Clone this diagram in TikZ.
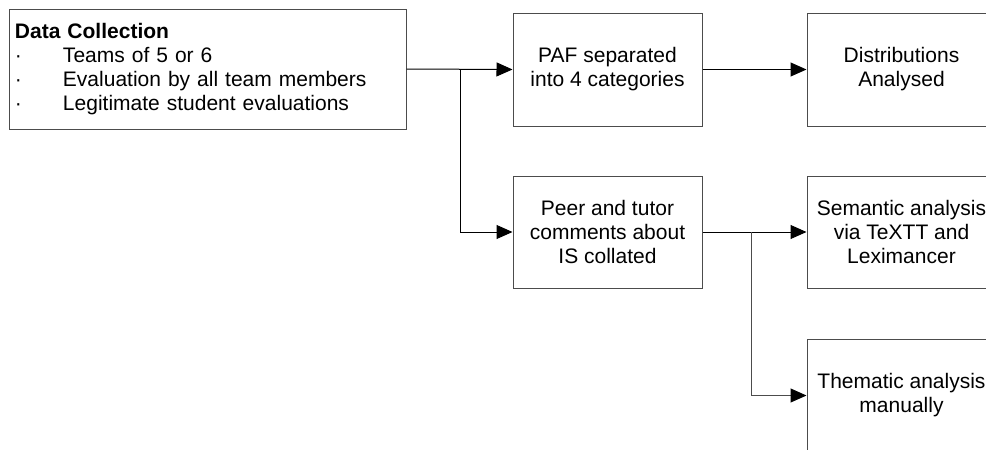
\documentclass[tikz,border=0pt]{standalone}
\usepackage{fontspec}
\setmainfont{Liberation Sans}
\usepackage{tikz}
\usetikzlibrary{arrows.meta}

\begin{document}
\begin{tikzpicture}[
    x=1pt, y=-1pt, line width=1pt,
    font=\fontsize{21}{24}\selectfont, >={Triangle[length=16pt,width=14pt,black]},
    stage/.style  ={draw=black!70, minimum width=189pt, minimum height=113pt, align=center, inner sep=2pt},
    listbox/.style={draw=black!70, minimum width=397pt, minimum height=120pt, text width=385pt, align=left, inner xsep=6pt},
    link/.style   ={->, black}
]
\useasboundingbox (0,0) rectangle (986,450);
\clip (0,0) rectangle (986,450);

% --- Data collection ---
\node[listbox] (data) at (207.5, 69) {\textbf{Data Collection}\\
  \makebox[48pt][l]{·}Teams of 5 or 6\\
  \makebox[48pt][l]{·}Evaluation by all team members\\
  \makebox[48pt][l]{·}Legitimate student evaluations};

% --- Quantitative branch ---
\node[stage] (paf)  at (607.5, 69.5) {PAF separated\\into 4 categories};
\node[stage] (dist) at (901.5, 69.5) {Distributions\\Analysed};

% --- Qualitative branch ---
\node[stage, minimum height=112pt] (peer) at (607.5, 232) {Peer and tutor\\comments about\\IS collated};
\node[stage, minimum height=112pt] (sem)  at (901.5, 232) {Semantic analysis\\via TeXTT and\\Leximancer};
\node[stage] (them) at (901.5, 395.5) {Thematic analysis\\manually};

% --- Junctions ---
\coordinate (j1) at (460, 69);
\coordinate (j2) at (751, 232);

% --- Connectors ---
\draw[link] (data.east) -- (paf.west);
\draw[link] (j1) |- (peer.west);
\draw[link] (paf) -- (dist);
\draw[link] (peer) -- (sem);
\draw[link, draw=black!70] (j2) |- (them.west);

\end{tikzpicture}
\end{document}
